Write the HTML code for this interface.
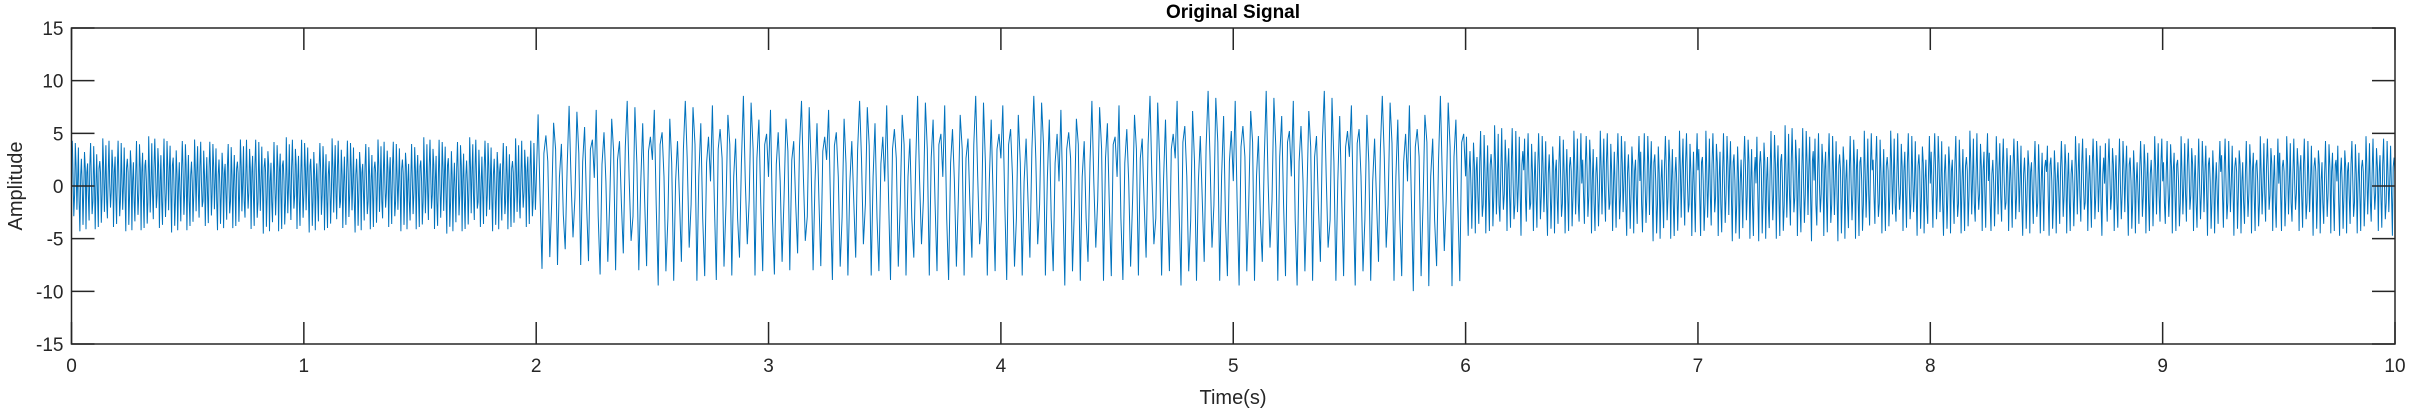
<!DOCTYPE html>
<html><head><meta charset="utf-8"><style>
html,body{margin:0;padding:0;background:#fff;}
svg{display:block;font-family:"Liberation Sans",Arial,sans-serif;}
</style></head><body>
<svg id="chart" width="2409" height="412" viewBox="0 0 2409 412">
<text x="1233" y="18" text-anchor="middle" font-size="19" font-weight="bold" fill="#000">Original Signal</text>
<g id="plot"></g>
<text x="1233" y="404" text-anchor="middle" font-size="20" fill="#262626">Time(s)</text>
<text x="0" y="0" transform="translate(22,186) rotate(-90)" text-anchor="middle" font-size="20" fill="#262626">Amplitude</text>
</svg>
<script>
// data
const xTicks = [0,1,2,3,4,5,6,7,8,9,10];
const yTicks = [-15,-10,-5,0,5,10,15];
const segStart = [0,0.25,0.5,0.75,1,1.25,1.5,1.75,2,2.25,2.5,2.75,3,3.25,3.5,3.75,4,4.25,4.5,4.75,5,5.25,5.5,5.75,6,6.25,6.5,6.75,7,7.25,7.5,7.75,8,8.25,8.5,8.75,9,9.25,9.5,9.75];
const upperEnv = [4.3,4.5,4.2,4.4,4.3,4.2,4.4,4.3, 8,8.5,8.5,9,8.5,8.5,9,9,9,8.5,9,9.5,9.5,9.5,9,9, 5.5,5,5,5,5,5.5,5,5,5,4.5,4.5,4.5,4.5,4.5,4.5,4.5];
const lowerEnv = [4.1,4.2,4.0,4.3,4.2,4.1,4.3,4.1, 7.5,8,9,8.5,8,8.5,8.5,8.5,8.5,9,8.5,9,9,9,9,9.5, 4.5,4.5,4.5,5,5,5,5,4.5,4.5,4.5,4.5,4.5,4.5,4.5,4.5,4.5];
const freqHz = [75,75,75,75,75,75,75,75, 30,30,30,30,30,30,30,30,30,30,30,30,30,30,30,30, 65,65,65,65,65,65,65,65,65,65,65,65,65,65,65,65];
const peakFactors = [1,0.7,0.95,0.55,0.85,1.05,0.6,0.9,0.75,1,0.5,0.8,0.95,0.65,0.88];
const innerFactors = [0.3,-0.2,0.45,0.1,-0.35,0.25,0.05,-0.15,0.4];

const L=71.5,R=2395,T=28,B=344;
const xs=t=>L+(t/10)*(R-L);
const ys=v=>T+(15-v)/30*(B-T);
const svg=document.getElementById('chart');
const plot=document.getElementById('plot');
const NS='http://www.w3.org/2000/svg';

let d='';let k=0;let first=true;
for(let s=0;s<segStart.length;s++){
  const t0=segStart[s], dur=0.25, n=Math.round(freqHz[s]*dur*2);
  for(let h=0;h<n;h++){
    const t=t0+dur*(h+0.5)/n;
    const f=peakFactors[k%peakFactors.length];
    const v=(h%2===0)?upperEnv[s]*f:-lowerEnv[s]*f;
    const tm=t0+dur*(h+1)/n;
    const im=innerFactors[k%innerFactors.length]*((upperEnv[s]+lowerEnv[s])/2);
    d+=(first?'M':'L')+xs(t).toFixed(1)+','+ys(v).toFixed(1)+'L'+xs(tm).toFixed(1)+','+ys(im).toFixed(1);
    first=false;k++;
  }
}
const path=document.createElementNS(NS,'path');
path.setAttribute('d',d);
path.setAttribute('fill','none');
path.setAttribute('stroke','#0072BD');
path.setAttribute('stroke-width','1');


plot.appendChild(path);

const box=document.createElementNS(NS,'rect');
box.setAttribute('x',L);box.setAttribute('y',T);box.setAttribute('width',R-L);box.setAttribute('height',B-T);
box.setAttribute('fill','none');box.setAttribute('stroke','#262626');box.setAttribute('stroke-width','1.5');


plot.appendChild(box);

xTicks.forEach(v=>{
  const x=xs(v);
  const tk=document.createElementNS(NS,'path');
  tk.setAttribute('d',`M${x},${B}V${B-22}M${x},${T}V${T+22}`);
  tk.setAttribute('stroke','#262626');tk.setAttribute('stroke-width','1.5');
  
  
  plot.appendChild(tk);
  const lb=document.createElementNS(NS,'text');
  lb.setAttribute('x',x);lb.setAttribute('y',B+28);lb.setAttribute('text-anchor','middle');
  lb.setAttribute('font-size','19');lb.setAttribute('fill','#262626');
  lb.textContent=v;
  
  
  plot.appendChild(lb);
});
yTicks.forEach(v=>{
  const y=ys(v);
  const tk=document.createElementNS(NS,'path');
  tk.setAttribute('d',`M${L},${y}H${L+23}M${R},${y}H${R-23}`);
  tk.setAttribute('stroke','#262626');tk.setAttribute('stroke-width','1.5');
  
  
  plot.appendChild(tk);
  const lb=document.createElementNS(NS,'text');
  lb.setAttribute('x',L-8);lb.setAttribute('y',y+7);lb.setAttribute('text-anchor','end');
  lb.setAttribute('font-size','19');lb.setAttribute('fill','#262626');
  lb.textContent=v;
  
  
  plot.appendChild(lb);
});
</script>
</body></html>
